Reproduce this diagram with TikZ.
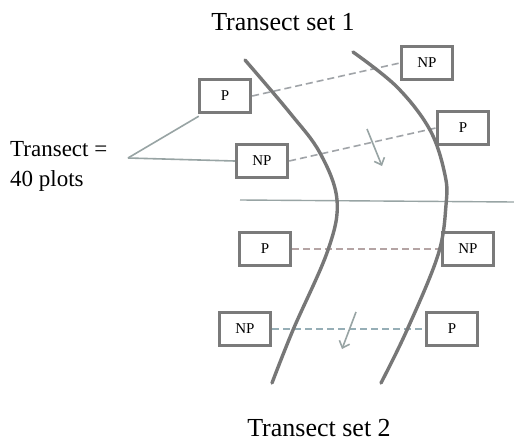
\documentclass[tikz,border=0pt]{standalone}
\usepackage{fontspec}
\setmainfont{Liberation Serif}
\usetikzlibrary{arrows.meta}
\definecolor{boxgray}{HTML}{7A7A7A}
\definecolor{curvegray}{HTML}{777777}
\definecolor{leadgray}{HTML}{98A4A4}
\definecolor{dashgray}{HTML}{A0A4A8}
\definecolor{dashpink}{HTML}{B4A4A4}
\definecolor{dashblue}{HTML}{96AEB6}
\tikzset{
  plotbox/.style={draw=boxgray, line width=3.4pt, fill=white, minimum width=51pt, minimum height=33pt, inner sep=0pt, font=\fontsize{15}{15}\selectfont},
  transect/.style={draw=curvegray, line width=3.4pt, line cap=round},
  link/.style={line width=1.6pt, dash pattern=on 7pt off 4pt},
  leader/.style={draw=leadgray, line width=1.6pt},
  flow/.style={draw=leadgray, line width=1.6pt, -{Straight Barb[length=6pt,width=11pt]}},
  title/.style={font=\fontsize{26}{26}\selectfont, inner sep=0pt}
}
\begin{document}
\begin{tikzpicture}[x=1pt,y=-1pt]
\useasboundingbox[fill=white] (0,0) rectangle (514,444);
% plot boxes
\node[plotbox] (p1) at (225,96) {P};
\node[plotbox] (np1) at (427,63) {NP};
\node[plotbox] (np2) at (262,161) {NP};
\node[plotbox] (p2) at (463,128) {P};
\node[plotbox] (p3) at (265,249) {P};
\node[plotbox] (np3) at (468,249) {NP};
\node[plotbox] (np4) at (245,329) {NP};
\node[plotbox] (p4) at (452,329) {P};
% horizontal divider
\coordinate (hl) at (240,200);
\coordinate (hr) at (514,202);
\draw[leader, line width=1.4pt] (hl) -- (hr);
% dashed links
\draw[link, draw=dashgray] (p1.east) -- (np1.west);
\draw[link, draw=dashgray] (np2.east) -- (p2.west);
\draw[link, draw=dashpink] (p3.east) -- (np3.west);
\draw[link, draw=dashblue] (np4.east) -- (p4.west);
% transects (curves)
\draw[transect] plot[smooth, tension=0.6] coordinates {(245,60) (290,113) (320,153) (337,200) (328,250) (293,330) (272,383)};
\draw[transect] plot[smooth, tension=0.6] coordinates {(353,52) (397,87) (430,130) (445,175) (446,205) (438,255) (407,330) (381,383)};
% titles
\node[title] (t1) at (283,22) {Transect set 1};
\node[title] (t2) at (319,428) {Transect set 2};
% label and leaders
\node[font=\fontsize{23}{30}\selectfont, align=left, anchor=north west, inner sep=0pt] (lab) at (10,141) {Transect =\\40 plots};
\coordinate (lp) at (128,158);
\draw[leader] (lp) -- ([xshift=1pt,yshift=-2pt]p1.south west);
\draw[leader] (lp) -- (np2.west);
% direction arrows
\coordinate (a1s) at (367,129);
\coordinate (a1e) at (382,166);
\coordinate (a2s) at (356,312);
\coordinate (a2e) at (342,349);
\draw[flow] (a1s) -- (a1e);
\draw[flow] (a2s) -- (a2e);
\end{tikzpicture}
\end{document}
